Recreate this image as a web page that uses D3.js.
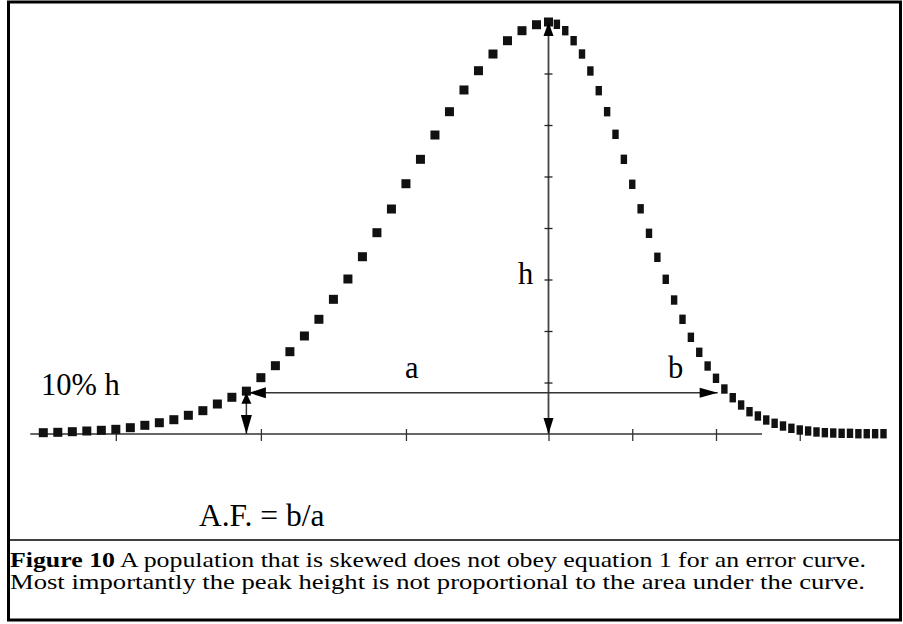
<!DOCTYPE html>
<html><head><meta charset="utf-8">
<script src="https://cdn.jsdelivr.net/npm/d3@7"></script>
<style>html,body{margin:0;padding:0;background:#fff;} svg{display:block;}</style>
</head><body>
<svg id="chart" width="903" height="624"></svg>
<script>
// ---- data (heights in % of peak height h) ----
const leftIndex = d3.range(-35, 1);           // sample positions left of (and at) the peak
const leftValues = [0.32, 0.41, 0.56, 0.73, 0.90, 1.14, 1.53, 2.11, 2.74, 3.47,
  4.54, 5.66, 7.28, 8.91, 10.4, 13.67, 16.58, 19.98, 23.79, 27.84,
  32.69, 37.62, 43.03, 48.86, 54.61, 60.75, 66.67, 72.57, 78.23, 83.50,
  88.18, 92.23, 95.46, 97.89, 99.34, 100];
const rightIndex = d3.range(1, 41);           // sample positions right of the peak
const rightValues = [99.44, 97.89, 95.46, 92.23, 88.11, 83.33, 78.23, 72.74, 66.67, 60.61,
  54.66, 48.71, 42.89, 37.55, 32.52, 27.84, 23.47, 19.83, 16.50, 13.52,
  10.92, 8.81, 7.04, 5.41, 4.37, 3.40, 2.60, 1.94, 1.38, 0.97,
  0.73, 0.49, 0.32, 0.24, 0.17, 0.17, 0.07, 0.07, 0.07, 0.07];
const xTicks = [-30, -20, -10, 0, 10, 20, 30];
const hTicks = [12.5, 25, 37.5, 50, 62.5, 75, 87.5];
const axisExtent = [-35.9, 25.5];
const tenPercent = 10;
const leftArrowIndex = -21;
const rightArrowIndex = 20.2;
const labels = { tenPct: "10% h", h: "h", a: "a", b: "b", af: "A.F. = b/a" };
const captionBold = "Figure 10";
const captionLine1 = " A population that is skewed does not obey equation 1 for an error curve.";
const captionLine2 = "Most importantly the peak height is not proportional to the area under the curve.";

// ---- scales ----
const x = d3.scaleLinear().domain([-35, -1, 0, 40]).range([43.3, 536.5, 548.5, 883.5]);
const y = d3.scaleLinear().domain([0, 100]).range([434, 22]);

const svg = d3.select("#chart");
const serif = "'Liberation Serif','Times New Roman',Times,serif";

// frame
svg.append("rect").attr("x", 8.5).attr("y", 2).attr("width", 892).attr("height", 618)
  .attr("fill", "none").attr("stroke", "#000").attr("stroke-width", 3);
svg.append("line").attr("x1", 8).attr("x2", 901).attr("y1", 540).attr("y2", 540)
  .attr("stroke", "#000").attr("stroke-width", 1.5);

// baseline axis
svg.append("line").attr("x1", x(axisExtent[0])).attr("x2", x(axisExtent[1]))
  .attr("y1", y(0)).attr("y2", y(0)).attr("stroke", "#333").attr("stroke-width", 1.5);
const xAxis = svg.append("g").attr("transform", `translate(0,${y(0)})`)
  .call(d3.axisBottom(x).tickValues(xTicks).tickSize(7).tickFormat(""));
xAxis.select(".domain").remove();
xAxis.selectAll(".tick line").attr("y1", -5).attr("stroke", "#333").attr("stroke-width", 1.3);

// vertical h arrow with ticks
svg.append("line").attr("x1", x(0)).attr("x2", x(0)).attr("y1", y(0)).attr("y2", y(100))
  .attr("stroke", "#444").attr("stroke-width", 1.8);
const hAxis = svg.append("g").attr("transform", `translate(${x(0) + 4},0)`)
  .call(d3.axisLeft(y).tickValues(hTicks).tickSize(8).tickFormat(""));
hAxis.select(".domain").remove();
hAxis.selectAll(".tick line").attr("stroke", "#222").attr("stroke-width", 1.3);

// small 10% arrow
svg.append("line").attr("x1", x(leftArrowIndex)).attr("x2", x(leftArrowIndex))
  .attr("y1", y(0)).attr("y2", y(tenPercent)).attr("stroke", "#333").attr("stroke-width", 1.5);
// horizontal a/b arrow
svg.append("line").attr("x1", x(leftArrowIndex)).attr("x2", x(rightArrowIndex))
  .attr("y1", y(tenPercent)).attr("y2", y(tenPercent)).attr("stroke", "#333").attr("stroke-width", 1.5);

function head(tx, ty, dir, len, hw) {
  let pts;
  if (dir === "up") pts = [[tx, ty], [tx - hw, ty + len], [tx + hw, ty + len]];
  if (dir === "down") pts = [[tx, ty], [tx - hw, ty - len], [tx + hw, ty - len]];
  if (dir === "left") pts = [[tx, ty], [tx + len, ty - hw], [tx + len, ty + hw]];
  if (dir === "right") pts = [[tx, ty], [tx - len, ty - hw], [tx - len, ty + hw]];
  svg.append("path").attr("d", "M" + pts.map(p => p.join(",")).join("L") + "Z").attr("fill", "#000");
}

// markers
svg.append("g").selectAll("rect").data(leftIndex.map((d, i) => [d, leftValues[i]])).join("rect")
  .attr("x", d => x(d[0]) - 4.5).attr("y", d => y(d[1]) - 4.5)
  .attr("width", 9).attr("height", 9).attr("fill", "#111");
svg.append("g").selectAll("rect").data(rightIndex.map((d, i) => [d, rightValues[i]])).join("rect")
  .attr("x", d => x(d[0]) - 3.2).attr("y", d => y(d[1]) - 4.7)
  .attr("width", 6.4).attr("height", 9.4).attr("fill", "#111");

head(x(0), y(100), "up", 14, 5);
head(x(0), y(0), "down", 16, 5);
head(x(leftArrowIndex), y(tenPercent), "up", 11, 5);
head(x(leftArrowIndex), y(0), "down", 19, 5.5);
head(x(leftArrowIndex) + 2.5, y(tenPercent), "left", 17, 5.5);
head(x(rightArrowIndex), y(tenPercent), "right", 18, 5);

// labels
const lab = (t, lx, ly, fs) => svg.append("text").attr("x", lx).attr("y", ly)
  .attr("font-family", serif).attr("font-size", fs).attr("fill", "#000").text(t);
lab(labels.tenPct, 41, 395, 30.5);
lab(labels.h, 518, 284, 30.5);
lab(labels.a, 405, 378, 30.5);
lab(labels.b, 668, 378, 30.5);
lab(labels.af, 199, 526, 31.5);

// caption (glyphs are wide in the reference: stretch horizontally)
const cap = svg.append("text").attr("x", 10).attr("y", 567)
  .attr("font-family", serif).attr("font-size", 21).attr("fill", "#000")
  .attr("textLength", 856).attr("lengthAdjust", "spacingAndGlyphs");
cap.append("tspan").attr("font-weight", "bold").text(captionBold);
cap.append("tspan").text(captionLine1);
svg.append("text").attr("x", 10).attr("y", 589)
  .attr("font-family", serif).attr("font-size", 21).attr("fill", "#000")
  .attr("textLength", 855).attr("lengthAdjust", "spacingAndGlyphs").text(captionLine2);
</script>
</body></html>
